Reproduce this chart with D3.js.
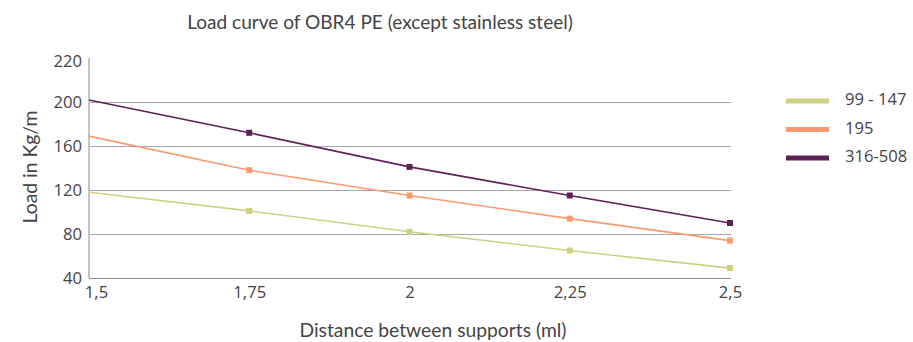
<!DOCTYPE html>
<html>
<head>
<meta charset="utf-8">
<script src="https://cdn.jsdelivr.net/npm/d3@7"></script>
<style>
  html, body { margin: 0; padding: 0; background: #fff; }
  svg { display: block; }
  text { fill: #444; }
</style>
</head>
<body>
<svg id="chart" width="913" height="342"></svg>
<script>
// Support spacing (m) and admissible load per profile range (kg/m)
const distances = [1.5, 1.75, 2, 2.25, 2.5];
const distanceLabels = ["1,5", "1,75", "2", "2,25", "2,5"];
const loadTicks = [40, 80, 120, 160, 200, 220];
const gridTicks = [80, 120, 160, 200];

const seriesNames = ["99 - 147", "195", "316-508"];
const load99to147 = [118, 101, 82, 65, 49];
const load195 = [169, 138, 115, 94, 74];
const load316to508 = [201, 172, 141, 115, 90];
const seriesColors = ["#cdd283", "#f99a70", "#5c2158"];

const series = [
  { name: seriesNames[0], values: load99to147, color: seriesColors[0] },
  { name: seriesNames[1], values: load195, color: seriesColors[1] },
  { name: seriesNames[2], values: load316to508, color: seriesColors[2] }
];

const svg = d3.select("#chart");
const titleFont = "Lato, 'Open Sans', sans-serif";
const labelFont = "'Open Sans', Lato, sans-serif";

// Scale a text node's font size so that it spans the given width
function fitWidth(sel, width) {
  sel.each(function () {
    const node = this;
    const size = parseFloat(node.getAttribute("font-size"));
    const w = node.getComputedTextLength();
    if (w > 0) node.setAttribute("font-size", (size * width / w).toFixed(2));
  });
}

const x = d3.scaleLinear().domain([1.5, 2.5]).range([89, 730]);
// The top label sits further from 200 than the regular step
const y = d3.scaleLinear().domain([40, 200, 220]).range([278, 102, 61]);

// Horizontal grid lines
svg.append("g")
  .selectAll("line")
  .data(gridTicks)
  .join("line")
  .attr("x1", x(1.5)).attr("x2", x(2.5) + 1)
  .attr("y1", d => Math.round(y(d)) + 0.5)
  .attr("y2", d => Math.round(y(d)) + 0.5)
  .attr("stroke", "#a6a6a6").attr("stroke-width", 1);

// Y axis
const yAxis = svg.append("g")
  .attr("transform", `translate(${x(1.5)},0)`)
  .call(d3.axisLeft(y).tickValues(loadTicks).tickSize(0).tickPadding(7).tickFormat(d3.format("d")));
yAxis.select(".domain").attr("stroke", "#c4c4c4").attr("stroke-width", 2)
  .attr("d", `M0,${y(220) - 3}V${y(40)}`);
yAxis.selectAll("text").attr("font-family", labelFont).attr("font-size", 16).attr("fill", "#444")
  .attr("dy", "0.36em");
fitWidth(yAxis.selectAll("text").filter(d => d === 220), 28.5);
const yTickSize = yAxis.selectAll("text").filter(d => d === 220).attr("font-size");
yAxis.selectAll("text").attr("font-size", yTickSize);

// X axis
const xAxis = svg.append("g")
  .attr("transform", `translate(0,${Math.round(y(40)) + 0.5})`)
  .call(d3.axisBottom(x).tickValues(distances).tickSize(0).tickPadding(8)
    .tickFormat((d, i) => distanceLabels[i]));
xAxis.select(".domain").attr("stroke", "#8c8c8c").attr("stroke-width", 1)
  .attr("d", `M${x(1.5)},0H${x(2.5) + 1}`);
xAxis.selectAll("text").attr("font-family", labelFont).attr("font-size", yTickSize).attr("fill", "#444");
xAxis.selectAll(".tick").filter((d, i) => i === 0).select("text").attr("dx", 7);

// Lines and markers
const line = d3.line().x((d, i) => x(distances[i])).y(d => y(d));
series.forEach(s => {
  svg.append("path")
    .attr("d", line(s.values))
    .attr("fill", "none")
    .attr("stroke", s.color)
    .attr("stroke-width", 1.6);
  svg.append("g")
    .selectAll("rect")
    .data(s.values.map((v, i) => ({ v, i })).filter(d => d.i > 0))
    .join("rect")
    .attr("x", d => x(distances[d.i]) - 3)
    .attr("y", d => y(d.v) - 3)
    .attr("width", 6).attr("height", 6)
    .attr("fill", s.color);
});

// Title
const title = svg.append("text")
  .attr("x", 380).attr("y", 29)
  .attr("text-anchor", "middle")
  .attr("font-family", titleFont).attr("font-size", 16)
  .text("Load curve of OBR4 PE (except stainless steel)");
fitWidth(title, 386);

// Axis titles
const yTitle = svg.append("text")
  .attr("transform", "translate(37,167) rotate(-90)")
  .attr("text-anchor", "middle")
  .attr("font-family", titleFont).attr("font-size", 16)
  .text("Load in Kg/m");
fitWidth(yTitle, 113);

const xTitle = svg.append("text")
  .attr("x", 433).attr("y", 337)
  .attr("text-anchor", "middle")
  .attr("font-family", titleFont).attr("font-size", 16)
  .text("Distance between supports (ml)");
fitWidth(xTitle, 267);

// Legend
const legend = svg.append("g");
series.forEach((s, i) => {
  const ly = 101 + i * 28.5;
  legend.append("line")
    .attr("x1", 786).attr("x2", 829)
    .attr("y1", ly).attr("y2", ly)
    .attr("stroke", s.color).attr("stroke-width", 5);
  legend.append("text")
    .attr("x", 845).attr("y", ly + 4)
    .attr("font-family", labelFont).attr("font-size", yTickSize)
    .text(s.name);
});
</script>
</body>
</html>
